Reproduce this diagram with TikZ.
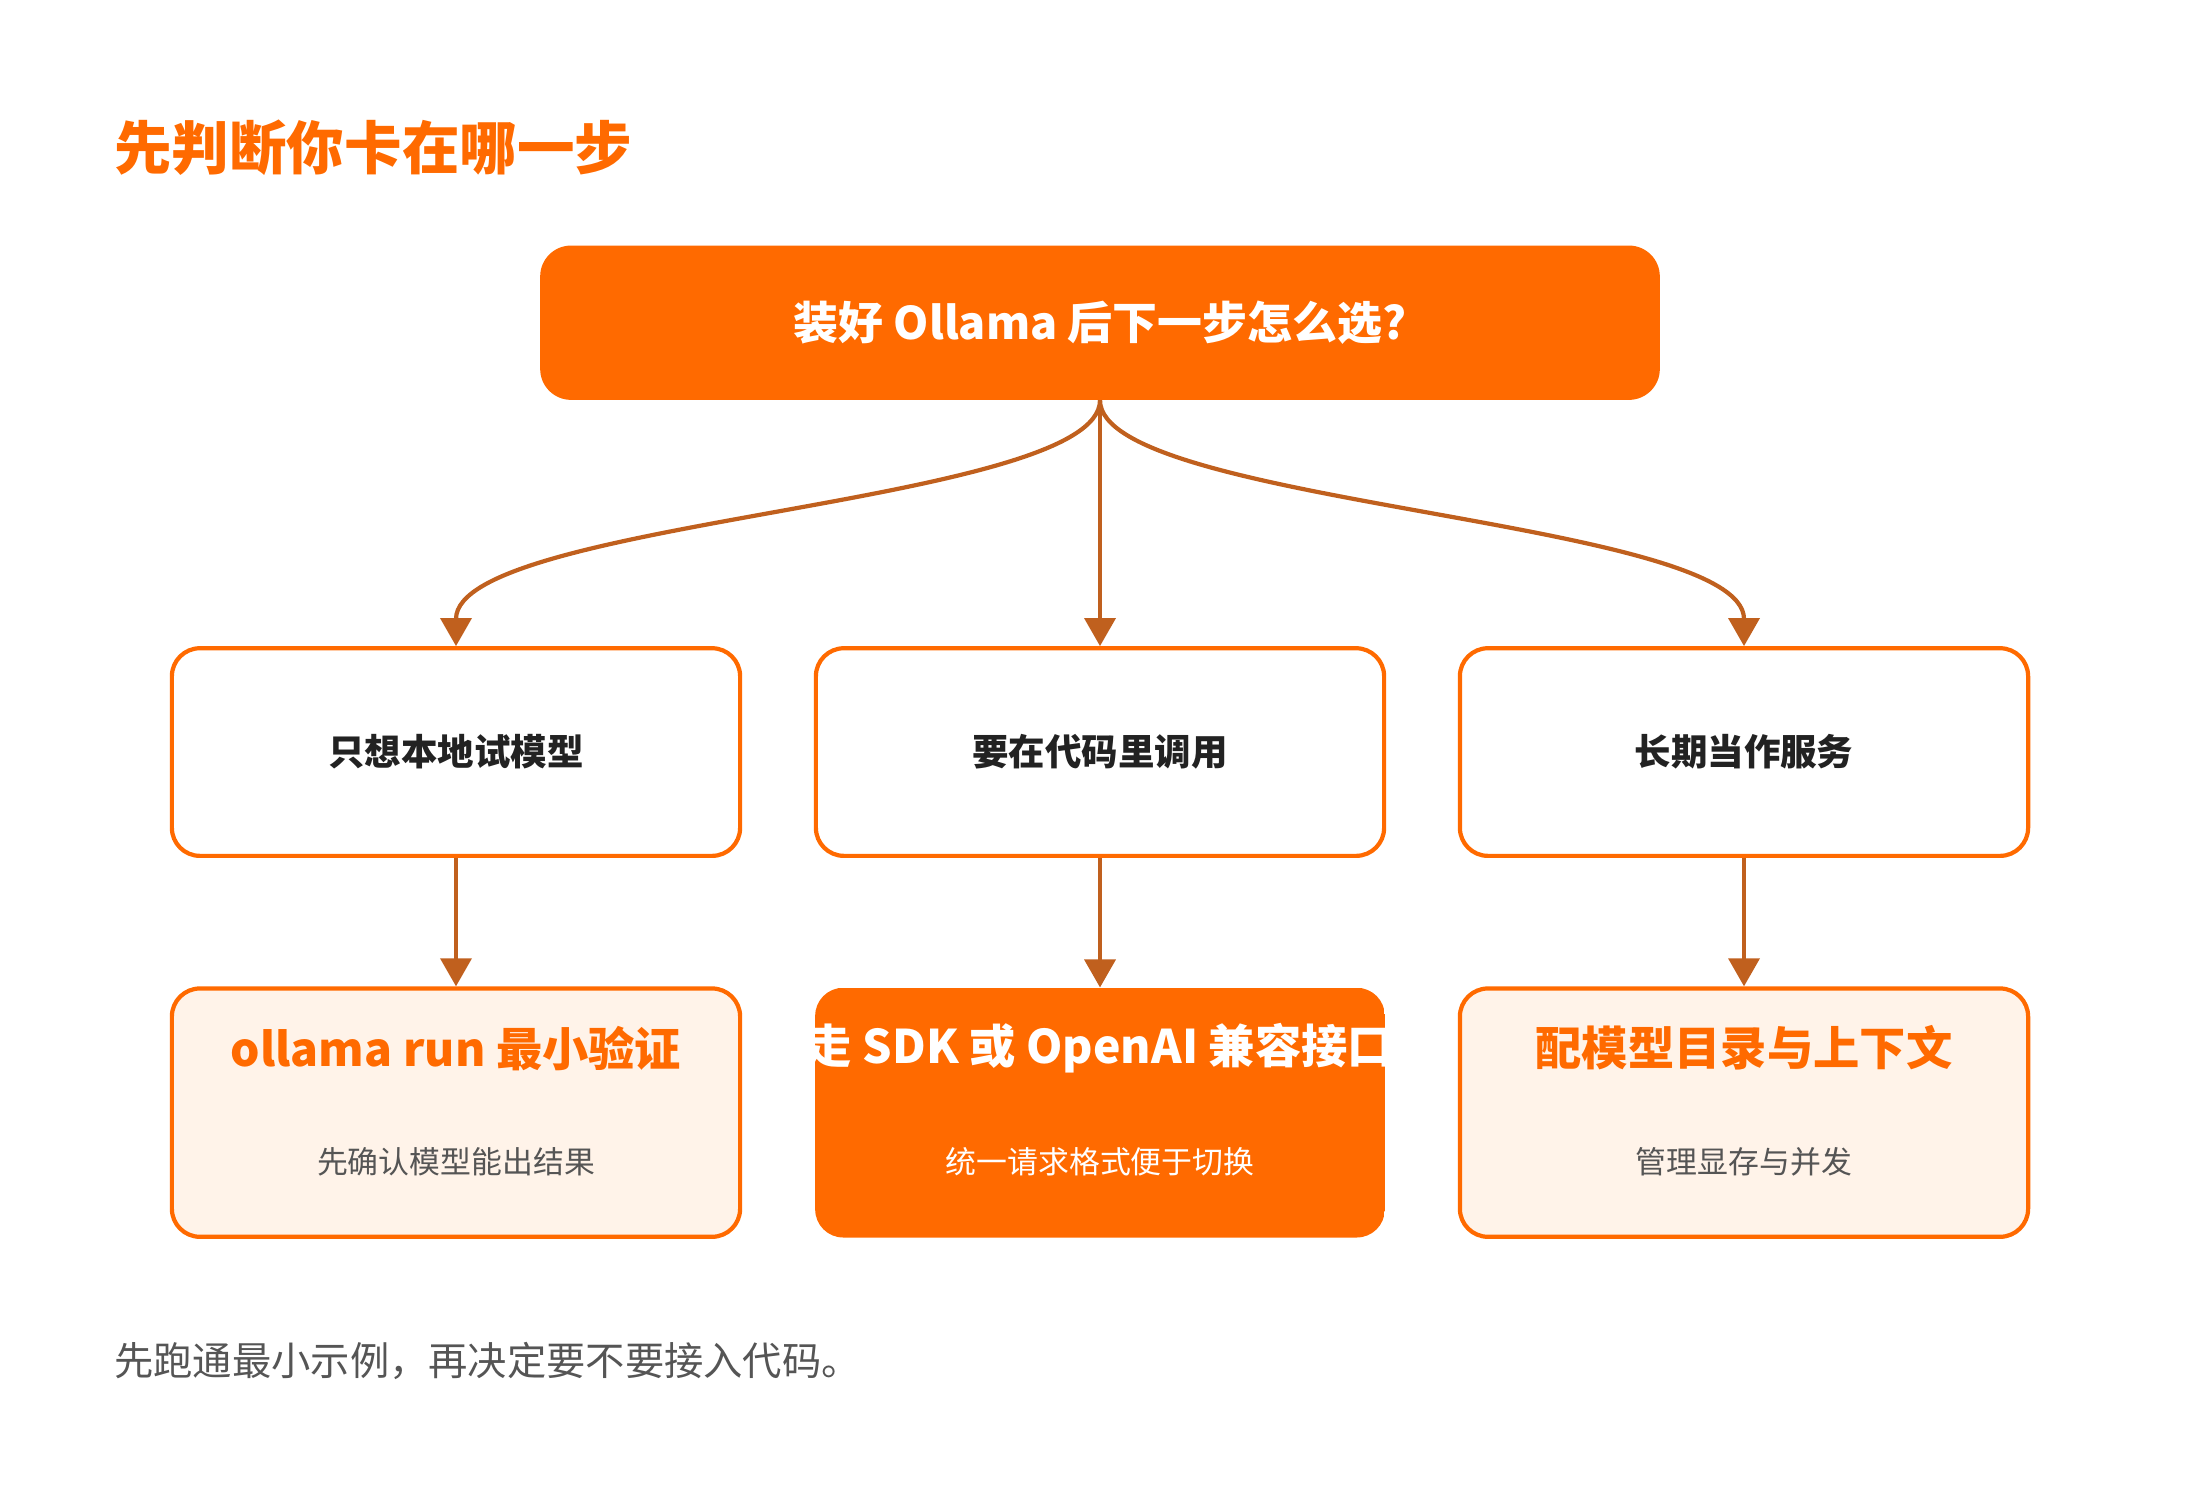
\documentclass[tikz,border=0pt]{standalone}
\usepackage{fontspec}
\setmainfont{Noto Sans CJK SC}
\usetikzlibrary{positioning, arrows.meta}
\definecolor{brand}{RGB}{255, 106, 0}
\definecolor{wire}{RGB}{192, 96, 30}
\definecolor{cream}{RGB}{255, 243, 233}
\definecolor{ink}{RGB}{34, 34, 34}
\definecolor{muted}{RGB}{85, 85, 85}
\newcommand{\fs}[1]{\fontsize{#1}{#1}\selectfont}

\begin{document}
\begin{tikzpicture}[x=1pt, y=-1pt,
    stage/.style={draw=brand, line width=3, rounded corners=20, fill=white,
      minimum width=405, minimum height=148, text=ink, font=\fs{26}\bfseries},
    pick/.style={draw=brand, line width=3, rounded corners=20, fill=cream,
      minimum width=405, minimum height=177},
    flow/.style={wire, line width=3, -{Triangle[width=22, length=20]}}]
  \useasboundingbox (0, 0) rectangle (1568, 1060);

  \node[anchor=west, text=brand, font=\fs{41}\bfseries] (title) at (78, 105) {先判断你卡在哪一步};
  \node[fill=brand, rounded corners=22, minimum width=798, minimum height=110,
    text=white, font=\fs{32}\bfseries] (root) at (784, 230) {装好 Ollama 后下一步怎么选?};

  \node[stage] (local) at (325, 536) {只想本地试模型};
  \node[stage] (code) at (784, 536) {要在代码里调用};
  \node[stage] (serve) at (1243, 536) {长期当作服务};

  \node[pick] (run) at (325, 793) {};
  \node[text=brand, font=\fs{33}\bfseries] at (325, 747) {ollama run 最小验证};
  \node[text=muted, font=\fs{22}] at (325, 828) {先确认模型能出结果};

  \begin{scope}
    \clip[rounded corners=20] (581, 704) rectangle (987, 882);
    \node[fill=brand, minimum width=406, minimum height=178] (sdk) at (784, 793) {};
    \node[text=white, font=\fs{33}\bfseries] at (784, 747) {走 SDK 或 OpenAI 兼容接口};
    \node[text=white, font=\fs{22}] at (784, 828) {统一请求格式便于切换};
  \end{scope}

  \node[pick] (ctx) at (1243, 793) {};
  \node[text=brand, font=\fs{33}\bfseries] at (1243, 747) {配模型目录与上下文};
  \node[text=muted, font=\fs{22}] at (1243, 828) {管理显存与并发};

  \draw[flow] (root.south) .. controls (784, 360) and (325, 370) .. (local.north);
  \draw[flow] (root.south) -- (code.north);
  \draw[flow] (root.south) .. controls (784, 360) and (1243, 370) .. (serve.north);
  \draw[flow] (local.south) -- (run.north);
  \draw[flow] (code.south) -- (sdk.north);
  \draw[flow] (serve.south) -- (ctx.north);

  \node[anchor=west, text=muted, font=\fs{28}] (note) at (78, 970) {先跑通最小示例，再决定要不要接入代码。};
\end{tikzpicture}
\end{document}
